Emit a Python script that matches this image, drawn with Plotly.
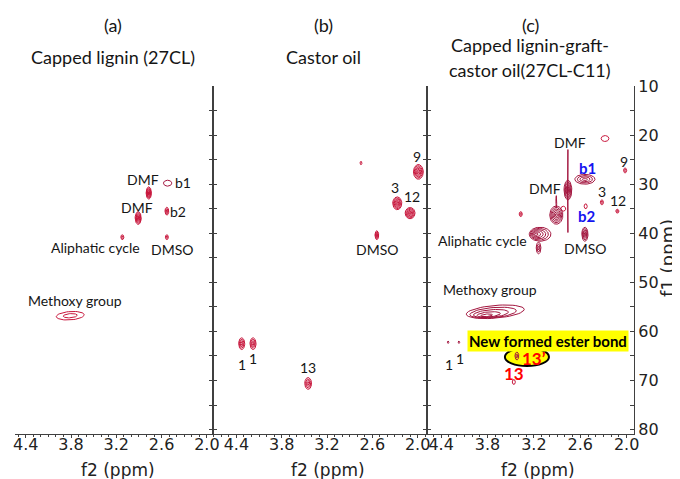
import numpy as np
import plotly.graph_objects as go

W, H = 680, 479

# ---------------- data (f2 = 1H ppm, f1 = 13C ppm) ----------------
# panel (a) Capped lignin (27CL)
a_f2 = [2.52, 2.77, 2.91, 2.53, 3.12, 2.53, 3.81]
a_f1 = [29.8, 31.8, 36.9, 35.5, 40.8, 40.8, 56.8]
a_dw = [0.11, 0.07, 0.08, 0.05, 0.04, 0.04, 0.37]
a_dh = [1.2, 2.5, 2.6, 1.6, 1.0, 1.0, 1.7]
a_lv = [1, 6, 6, 3, 2, 2, 2]
a_tilt = [0, 0, 0, 0, 0, 0, 1.0]

# panel (b) Castor oil
b_f2 = [2.75, 1.99, 2.27, 2.10, 2.54, 4.33, 4.18, 3.45]
b_f1 = [25.7, 27.5, 33.9, 35.9, 40.4, 62.5, 62.5, 70.6]
b_dw = [0.025, 0.13, 0.12, 0.13, 0.05, 0.08, 0.08, 0.09]
b_dh = [0.7, 3.0, 2.6, 2.3, 1.8, 2.4, 2.4, 2.4]
b_lv = [1, 6, 6, 6, 4, 4, 4, 4]

# panel (c) Capped lignin-graft-castor oil (27CL-C11)
c_f2 = [2.28, 2.02, 2.54, 2.76, 2.76, 2.91, 2.91, 2.82, 2.32, 2.12,
        2.53, 2.54, 3.37, 3.12, 3.14, 3.70, 4.31, 4.17, 3.42, 3.46]
c_f1 = [20.7, 27.2, 29.0, 31.4, 31.2, 36.3, 33.6, 35.0, 33.7, 35.5,
        34.5, 40.2, 36.1, 40.2, 43.0, 56.0, 62.2, 62.2, 65.0, 70.3]
c_dw = [0.10, 0.04, 0.26, 0.008, 0.10, 0.17, 0.01, 0.065, 0.04, 0.04,
        0.04, 0.08, 0.04, 0.28, 0.06, 0.75, 0.02, 0.02, 0.05, 0.04]
c_dh = [1.2, 1.0, 2.0, 16.9, 4.0, 3.7, 2.5, 1.0, 1.0, 0.8,
        1.0, 2.85, 1.0, 2.85, 2.4, 2.6, 0.5, 0.5, 1.6, 1.0]
c_lv = [1, 2, 4, 1, 6, 6, 1, 1, 2, 2, 1, 5, 2, 6, 3, 5, 1, 1, 2, 1]
c_tone = [0, 0, 1, 1, 1, 1, 1, 0, 0, 0, 0, 1, 0, 1, 1, 1, 1, 1, 1, 0]
c_sx = [0]*13 + [0.06, 0, 0.14, 0, 0, 0, 0]
c_sy = [0]*15 + [0.9, 0, 0, 0, 0]
c_tilt = [0]*15 + [1.3, 0, 0, 0, 0]

x_ticks = [4.4, 3.8, 3.2, 2.6, 2.0]
y_ticks = [10, 20, 30, 40, 50, 60, 70, 80]

RED = "#C8163C"
MAROON = "#A3163F"


def rings(cx, cy, w, h, n, sx=0.0, sy=0.0, tilt=0.0):
    xs, ys = [], []
    t = np.linspace(0, 2 * np.pi, 49)
    for k in range(n):
        s = (k + 1) / n
        ccx = cx + sx * (1 - s)
        ccy = cy + sy * (1 - s)
        ex = ccx + w / 2 * s * np.cos(t)
        ey = ccy + h / 2 * s * np.sin(t) + tilt * (ex - ccx)
        xs += list(ex) + [None]
        ys += list(ey) + [None]
    return xs, ys


def panel_traces(f2, f1, dw, dh, lv, colors, axx, axy, sx=None, sy=None, tilt=None):
    n = len(f2)
    sx = sx or [0] * n
    sy = sy or [0] * n
    tilt = tilt or [0] * n
    groups = {}
    for i in range(n):
        xs, ys = rings(f2[i], f1[i], dw[i], dh[i], lv[i], sx[i], sy[i], tilt[i])
        gx, gy = groups.setdefault(colors[i], ([], []))
        gx += xs
        gy += ys
    out = []
    for col, (gx, gy) in groups.items():
        out.append(go.Scatter(x=gx, y=gy, mode="lines", line=dict(color=col, width=1),
                              xaxis=axx, yaxis=axy, hoverinfo="skip", showlegend=False))
    return out


fig = go.Figure()
for tr in panel_traces(a_f2, a_f1, a_dw, a_dh, a_lv, [MAROON] + [RED] * 6, "x", "y", tilt=a_tilt):
    fig.add_trace(tr)
for tr in panel_traces(b_f2, b_f1, b_dw, b_dh, b_lv, [RED] * len(b_f2), "x2", "y2"):
    fig.add_trace(tr)
for tr in panel_traces(c_f2, c_f1, c_dw, c_dh, c_lv, [RED if t == 0 else MAROON for t in c_tone],
                       "x3", "y3", c_sx, c_sy, c_tilt):
    fig.add_trace(tr)

# the page body has an 8px margin: positions below are given in screen pixels
OFF = 8


def fx(px):
    return (px - OFF) / W


def fy(py):
    return 1 - (py - OFF) / H


YDOM = [fy(434), fy(86)]
YRANGE = [80.9, 10]
AXC = "#404040"
TICKFONT = dict(family="DejaVu Sans", size=16, color="#222")

xcommon = dict(tickvals=x_ticks, ticktext=[f"{v:.1f}" for v in x_ticks], ticks="outside", ticklen=3,
               tickcolor=AXC, minor=dict(dtick=0.1, tick0=2.0, ticks="outside", ticklen=2, tickcolor=AXC),
               showline=True, linecolor=AXC, linewidth=1.2, showgrid=False, zeroline=False,
               tickfont=TICKFONT, automargin=False, ticklabelstandoff=-7)
ycommon = dict(range=YRANGE, domain=YDOM, showline=True, linecolor=AXC, linewidth=1.2,
               showgrid=False, zeroline=False, ticks="inside", ticklen=4, tickcolor=AXC, automargin=False)

fig.update_layout(
    width=W, height=H, margin=dict(l=0, r=0, t=0, b=0, pad=0, autoexpand=False),
    paper_bgcolor="white", plot_bgcolor="white", showlegend=False,
    xaxis=dict(domain=[fx(15), fx(213)], range=[4.542, 1.919], anchor="y", **xcommon),
    xaxis2=dict(domain=[fx(213), fx(427)], range=[4.710, 1.876], anchor="y2", **xcommon),
    xaxis3=dict(domain=[fx(427), fx(634)], range=[4.583, 1.905], anchor="y3", **xcommon),
    yaxis=dict(anchor="x", side="right", tick0=10, dtick=5, showticklabels=False, **ycommon),
    yaxis2=dict(anchor="x2", side="left", mirror="ticks", tick0=10, dtick=5, showticklabels=False, **ycommon),
    yaxis3=dict(anchor="x3", side="right", mirror="ticks", tickvals=y_ticks,
                minor=dict(dtick=5, tick0=10, ticks="inside", ticklen=4, tickcolor=AXC),
                showticklabels=True, tickfont=TICKFONT, **ycommon),
)

# ellipse highlighting the new ester cross-peak (13')
e_cx, e_cy = 3.29, 65.2
fig.add_shape(type="circle", xref="x3", yref="y3", x0=e_cx + 0.285, x1=e_cx - 0.285,
              y0=e_cy - 1.85, y1=e_cy + 1.85, fillcolor="#FFFF00",
              line=dict(color="black", width=2), layer="below")

ann = []


def lab(text, x, y, size=14, color="#151515", family="Lato", **kw):
    d = dict(text=text, x=fx(x), y=fy(y), xref="paper", yref="paper", showarrow=False,
             xanchor="center", yanchor="middle", font=dict(family=family, size=size, color=color))
    d.update(kw)
    ann.append(d)


# titles
for t, x, y in [("(a)", 113, 25), ("Capped lignin (27CL)", 113, 57),
                ("(b)", 323, 25), ("Castor oil", 323, 57),
                ("(c)", 530, 25), ("Capped lignin-graft-", 530, 45), ("castor oil(27CL-C11)", 530, 70)]:
    lab(t, x, y, size=18)

# panel (a) labels
for t, x, y in [("DMF", 143, 179), ("b1", 183, 183), ("DMF", 137, 207), ("b2", 178, 212),
                ("Aliphatic cycle", 95, 247), ("DMSO", 172, 249), ("Methoxy group", 75, 300)]:
    lab(t, x, y)
# panel (b) labels
for t, x, y in [("9", 417, 157), ("3", 395, 187), ("12", 412, 197), ("DMSO", 377, 250),
                ("1", 242, 364), ("1", 253, 358), ("13", 308, 367)]:
    lab(t, x, y)
# panel (c) labels
for t, x, y in [("DMF", 570, 142), ("DMF", 545, 188), ("3", 602, 191), ("12", 618, 200),
                ("9", 624, 161), ("Aliphatic cycle", 482, 240), ("DMSO", 585, 248),
                ("Methoxy group", 490, 289), ("1", 449, 364), ("1", 460, 358)]:
    lab(t, x, y)
lab("<b>b1</b>", 587, 168, size=15, color="#1414F0")
lab("<b>b2</b>", 587, 216, size=15, color="#1414F0")
lab("<b>13’</b>", 534, 358, size=17, color="#FF0000")
lab("<b>13</b>", 514, 373, size=17, color="#FF0000")
lab("<b>New formed ester bond</b>", 548, 341, size=15, color="black", bgcolor="#FFFF00", borderpad=1)

# axis titles
for x in (118, 328, 538):
    lab("f2 (ppm)", x, 470, size=17, family="DejaVu Sans", color="#222")
lab("f1 (ppm)", 667, 258, size=18, family="DejaVu Sans", color="#222", textangle=-90)

fig.update_layout(annotations=ann)
fig.write_html("out.html")
